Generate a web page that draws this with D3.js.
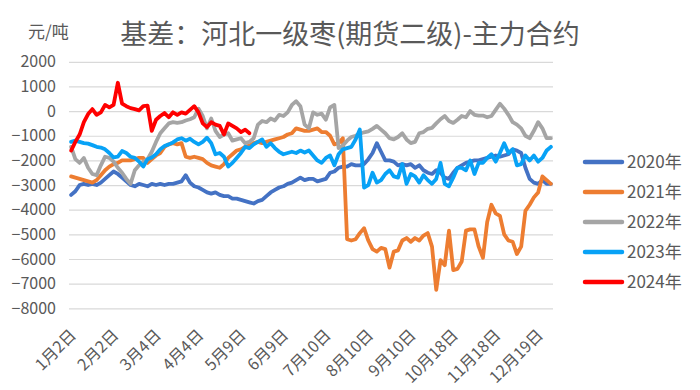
<!DOCTYPE html>
<html><head><meta charset="utf-8">
<script src="https://cdn.jsdelivr.net/npm/d3@7/dist/d3.min.js"></script>
<style>
html,body{margin:0;padding:0;background:#fff;}
svg{display:block;font-family:"Noto Sans CJK SC","Noto Sans",sans-serif;}
</style></head>
<body>
<svg id="chart" width="700" height="390"></svg>
<script>
const titleText = "基差：河北一级枣(期货二级)-主力合约";
const unitText = "元/吨";
const N = 114;
const tickLabels = ["1月2日","2月2日","3月4日","4月4日","5月9日","6月9日","7月10日","8月10日","9月10日","10月18日","11月18日","12月19日"];
const yTicks = [2000,1000,0,-1000,-2000,-3000,-4000,-5000,-6000,-7000,-8000];
const seriesNames = ["2020年","2021年","2022年","2023年","2024年"];
const seriesColors = ["#4472C4","#ED7D31","#A5A5A5","#08A2F6","#FF0000"];

const s2020 = [-3400,-3250,-3000,-2950,-3000,-2950,-3000,-2900,-2750,-2600,
  -2450,-2550,-2700,-2850,-3000,-3050,-2950,-3000,-3050,-2950,
  -3000,-2950,-3000,-2950,-2950,-2900,-2850,-2600,-2900,-3050,
  -3100,-3200,-3300,-3350,-3300,-3400,-3450,-3450,-3550,-3550,
  -3600,-3650,-3700,-3750,-3650,-3600,-3450,-3300,-3200,-3100,
  -3050,-2950,-2900,-2800,-2700,-2800,-2750,-2750,-2850,-2800,
  -2750,-2500,-2450,-2300,-2250,-2250,-2150,-2200,-2200,-2150,
  -1950,-1700,-1300,-1650,-2000,-2000,-2050,-2200,-2150,-2200,
  -2150,-2300,-2200,-2400,-2500,-2550,-2400,-2500,-2700,-2750,
  -2500,-2300,-2200,-2100,-2050,-2000,-2000,-1950,-1900,-1850,
  -1800,-1850,-1800,-1750,-1550,-1600,-1700,-2300,-2750,-2900,
  -2950,-2800,-2950,-2950];
const s2021 = [-2650,-2700,-2750,-2800,-2850,-2900,-2800,-2600,-2400,-2250,
  -2150,-2100,-2000,-2000,-2000,-1950,-1900,-1900,-2100,-1950,
  -1800,-1700,-1450,-1350,-1300,-1350,-1300,-1850,-1900,-1850,
  -1900,-1950,-2100,-2200,-2250,-2300,-2150,-1900,-1750,-1600,
  -1550,-1450,-1400,-1300,-1250,-1300,-1250,-1200,-1150,-1100,
  -1050,-950,-900,-700,-750,-800,-800,-750,-700,-850,
  -850,-1000,-1350,-1300,-1100,-5200,-5250,-5200,-4950,-4750,
  -5250,-5600,-5700,-5550,-5600,-6350,-5700,-5650,-5250,-5150,
  -5300,-5150,-5250,-5050,-4950,-5500,-7250,-6050,-6250,-4850,
  -6450,-6400,-6100,-4850,-4800,-4800,-5500,-5950,-4500,-3800,
  -4150,-4250,-5000,-5250,-5300,-5800,-5500,-4050,-3800,-3500,
  -3300,-2650,-2800,-2950];
const s2022 = [-1450,-1950,-2100,-1900,-2300,-2550,-2600,-2200,-1850,-1900,
  -2050,-2300,-2500,-2750,-2950,-2400,-2200,-2050,-1950,-1650,
  -1250,-900,-700,-500,-450,-480,-450,-380,-330,-250,
  100,-200,-700,-300,-800,-1050,-950,-900,-1200,-1150,
  -1100,-1300,-1250,-1100,-550,-400,-450,-300,-380,-150,
  -200,-50,250,400,200,-550,-700,-50,-150,-100,
  -350,150,250,-1500,-1400,-1200,-1050,-1000,-920,-860,
  -820,-720,-600,-750,-900,-1100,-1150,-1050,-900,-1150,
  -1300,-1250,-900,-850,-720,-680,-500,-330,-200,-400,
  -480,-350,-200,-250,0,-150,-180,-180,-250,-200,
  50,300,100,-150,-450,-550,-700,-1000,-1100,-800,
  -450,-700,-1100,-1100];
const s2023 = [-1250,-1200,-1250,-1300,-1320,-1380,-1450,-1480,-1550,-1700,
  -1880,-1850,-1620,-1700,-1850,-1900,-2050,-2250,-1950,-1880,
  -1750,-1550,-1420,-1350,-1270,-1150,-1100,-1200,-1120,-1250,
  -1350,-1250,-1080,-1300,-1750,-1700,-1850,-2250,-2100,-1900,
  -1700,-1450,-1500,-1350,-1250,-1150,-1450,-1300,-1500,-1650,
  -1750,-1700,-1650,-1700,-1600,-1680,-1600,-1800,-2000,-2100,
  -1900,-1800,-2200,-1750,-1550,-1500,-1450,-1150,-750,-3100,
  -3000,-2500,-2900,-2800,-2550,-2400,-2650,-2700,-2150,-2950,
  -2550,-2650,-2900,-2600,-2800,-2950,-2750,-2100,-2950,-3050,
  -2700,-2300,-2300,-2400,-2000,-2550,-2100,-2100,-1900,-1750,
  -2050,-1700,-1300,-1700,-1550,-2200,-2150,-1800,-2000,-1800,
  -2050,-1900,-1600,-1450];
const s2024 = [-1600,-1250,-950,-450,-120,80,-150,-50,250,150,
  250,1150,300,200,120,80,30,200,220,-800,
  -350,-200,-80,-250,-50,-150,-50,-100,50,200,
  -50,-500,-650,-450,-550,-600,-950,-500,-600,-700,
  -850,-750,-900];
const seriesValues = [s2020, s2021, s2022, s2023, s2024];

const svg = d3.select("#chart");
const plotL = 69, plotR = 553, plotT = 61.8, plotB = 308.3;
const x = d3.scaleBand().domain(d3.range(N)).range([plotL, plotR]).padding(0);
const xc = i => x(i) + x.bandwidth() / 2;
const y = d3.scaleLinear().domain([-8000, 2000]).range([plotB, plotT]);
const fontFam = '"Noto Sans CJK SC","Noto Sans",sans-serif';

// gridlines
const grid = svg.append("g").attr("transform", `translate(${plotL},0)`)
  .call(d3.axisLeft(y).tickValues(yTicks).tickSize(-(plotR - plotL)).tickFormat(""));
grid.select(".domain").remove();
grid.selectAll("line").attr("stroke", "#D9D9D9").attr("stroke-width", 1.2);

// y labels
const ya = svg.append("g").attr("transform", `translate(56,0)`)
  .call(d3.axisLeft(y).tickValues(yTicks).tickSize(0).tickPadding(0).tickFormat(d3.format("d")));
ya.select(".domain").remove();
ya.selectAll("text").attr("fill", "#595959").attr("font-size", 16).attr("font-family", fontFam);

// x labels
const xa = svg.append("g").attr("transform", `translate(0,${plotB})`)
  .call(d3.axisBottom(x).tickValues(d3.range(0, N, 10)).tickSize(0)
    .tickFormat(i => tickLabels[i / 10]));
xa.select(".domain").remove();
xa.selectAll("text")
  .attr("fill", "#595959").attr("font-size", 16).attr("font-family", fontFam)
  .attr("text-anchor", "end")
  .attr("x", 0).attr("y", 0).attr("dy", "0.35em")
  .attr("transform", "translate(2,24) rotate(-45)");

// lines
const line = d3.line().x((d, i) => xc(i)).y(d => y(d));
seriesValues.forEach((vals, k) => {
  svg.append("path").datum(vals)
    .attr("fill", "none").attr("stroke", seriesColors[k])
    .attr("stroke-width", 3.8).attr("stroke-linejoin", "round").attr("stroke-linecap", "round")
    .attr("d", line);
});

// title
svg.append("text").attr("x", 350).attr("y", 44).attr("text-anchor", "middle")
  .attr("font-size", 27).attr("fill", "#595959").text(titleText);
svg.append("text").attr("x", 28).attr("y", 38)
  .attr("font-size", 17).attr("fill", "#595959").text(unitText);

// legend
const lg = svg.append("g");
seriesNames.forEach((name, k) => {
  const ly = 162 + k * 30;
  lg.append("line").attr("x1", 585).attr("x2", 622).attr("y1", ly).attr("y2", ly)
    .attr("stroke", seriesColors[k]).attr("stroke-width", 4.5).attr("stroke-linecap", "round");
  lg.append("text").attr("x", 627).attr("y", ly).attr("dy", "0.35em")
    .attr("font-size", 17).attr("fill", "#595959").text(name);
});
</script>
</body></html>
